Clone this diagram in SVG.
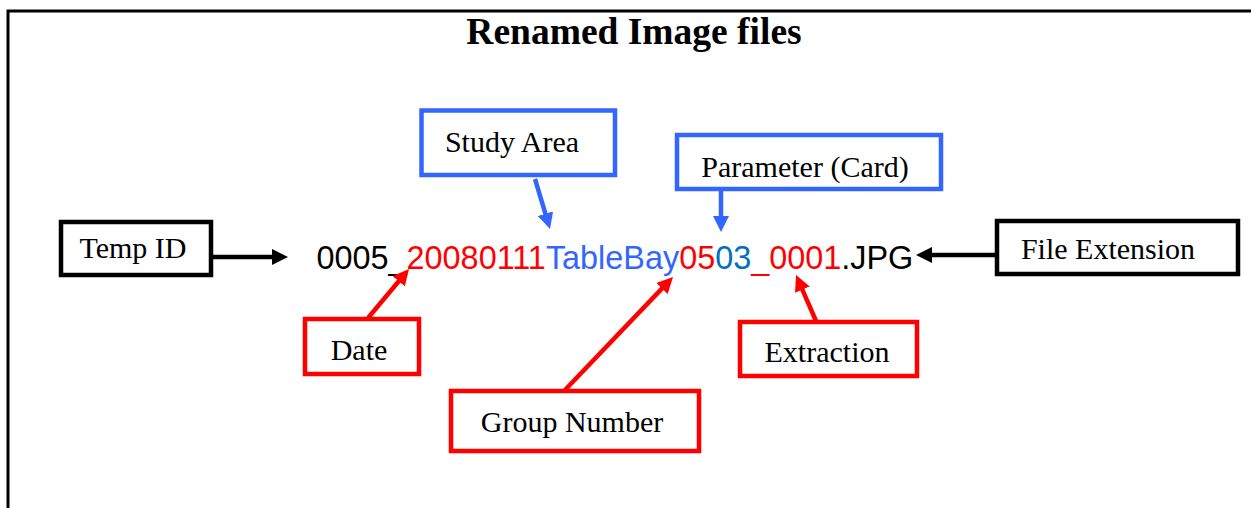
<svg xmlns="http://www.w3.org/2000/svg" width="1251" height="508" viewBox="0 0 1251 508">
  <defs>
    <style>
      .box { fill: #ffffff; stroke-width: 4.5; }
      .k { stroke: #000000; }
      .r { stroke: #ff0000; }
      .b { stroke: #3366ff; }
      .lbl { font-family: "Liberation Serif", "Times New Roman", serif; font-size: 30px; fill: #000000; text-anchor: middle; }
      .link { fill: none; stroke-width: 4.5; }
    </style>
    <marker id="headK" markerUnits="userSpaceOnUse" markerWidth="16" markerHeight="16" viewBox="0 0 16 16" refX="2" refY="8" orient="auto">
      <path d="M0,0 L16,8 L0,16 z" fill="#000000"/>
    </marker>
    <marker id="headR" markerUnits="userSpaceOnUse" markerWidth="16" markerHeight="16" viewBox="0 0 16 16" refX="2" refY="8" orient="auto">
      <path d="M0,0 L16,8 L0,16 z" fill="#ff0000"/>
    </marker>
    <marker id="headB" markerUnits="userSpaceOnUse" markerWidth="16" markerHeight="16" viewBox="0 0 16 16" refX="2" refY="8" orient="auto">
      <path d="M0,0 L16,8 L0,16 z" fill="#3366ff"/>
    </marker>
  </defs>

  <rect width="1251" height="508" fill="#ffffff"/>
  <!-- page frame -->
  <path d="M8,508 V11 H1251" fill="none" stroke="#000000" stroke-width="3"/>

  <text x="634" y="44" font-family="Liberation Serif, 'Times New Roman', serif" font-size="37.5" font-weight="bold" text-anchor="middle" fill="#000000">Renamed Image files</text>

  <!-- the file name being explained -->
  <text id="filename" x="316.5" y="269" font-family="Liberation Sans, Arial, sans-serif" font-size="32.4"><tspan fill="#000000">0005_</tspan><tspan fill="#ff0000">20080111</tspan><tspan fill="#3366ff">TableBay</tspan><tspan fill="#ff0000">05</tspan><tspan fill="#0070c0">03</tspan><tspan fill="#ff0000">_0001</tspan><tspan fill="#000000">.JPG</tspan></text>

  <g id="temp-id">
    <rect class="box k" x="61" y="222" width="150" height="53"/>
    <text class="lbl" x="133" y="258" font-size="24">Temp ID</text>
  </g>
  <g id="study-area">
    <rect class="box b" x="421.5" y="110.5" width="193.5" height="64.5"/>
    <text class="lbl" x="512" y="152">Study Area</text>
  </g>
  <g id="parameter">
    <rect class="box b" x="677" y="135" width="264" height="54"/>
    <text class="lbl" x="805" y="177" font-size="29.5">Parameter (Card)</text>
  </g>
  <g id="file-extension">
    <rect class="box k" x="997" y="221" width="241" height="53"/>
    <text class="lbl" x="1108" y="259" font-size="31">File Extension</text>
  </g>
  <g id="date">
    <rect class="box r" x="305" y="319" width="114" height="55"/>
    <text class="lbl" x="359" y="360">Date</text>
  </g>
  <g id="group-number">
    <rect class="box r" x="451" y="391" width="248" height="60"/>
    <text class="lbl" x="572" y="432" font-size="32.5">Group Number</text>
  </g>
  <g id="extraction">
    <rect class="box r" x="740" y="322" width="177" height="54"/>
    <text class="lbl" x="827" y="362">Extraction</text>
  </g>

  <g id="connectors">
    <path class="link k" d="M213,257 L274,257" marker-end="url(#headK)"/>
    <path class="link k" d="M995,255 L930,255" marker-end="url(#headK)"/>
    <path class="link b" d="M535,179 L546,215.6" marker-end="url(#headB)"/>
    <path class="link b" d="M721,191 L721,218" marker-end="url(#headB)"/>
    <path class="link r" d="M368,318 L400,279.7" marker-end="url(#headR)"/>
    <path class="link r" d="M565,390 L663.3,287.1" marker-end="url(#headR)"/>
    <path class="link r" d="M816,321 L801.6,287.8" marker-end="url(#headR)"/>
  </g>
</svg>
